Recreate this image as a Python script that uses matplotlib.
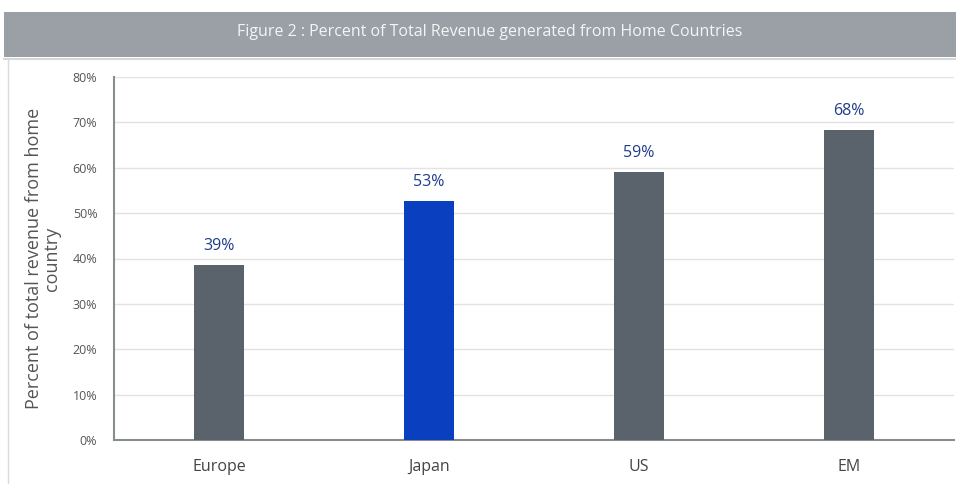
import matplotlib
matplotlib.use("Agg")
import matplotlib.pyplot as plt
from matplotlib.patches import Rectangle
from matplotlib.lines import Line2D
from matplotlib.ticker import FuncFormatter

categories = ["Europe", "Japan", "US", "EM"]
values = [38.6, 52.7, 59.1, 68.4]
labels = ["39%", "53%", "59%", "68%"]
yticks = [0, 10, 20, 30, 40, 50, 60, 70, 80]

plt.rcParams['font.family'] = ['Open Sans', 'DejaVu Sans']

fig = plt.figure(figsize=(9.56, 4.84), dpi=100)
W, H = 956, 484

# header band
fig.patches.append(Rectangle((4 / W, 1 - 57 / H), 1 - 4 / W, 45 / H, transform=fig.transFigure,
                             facecolor="#9aa0a6", edgecolor="none", zorder=0))
fig.lines.append(Line2D([4 / W, 1], [1 - 58.5 / H, 1 - 58.5 / H], transform=fig.transFigure,
                        color="#d5d8db", lw=1.5))
fig.lines.append(Line2D([8 / W, 8 / W], [0, 1 - 58 / H], transform=fig.transFigure,
                        color="#d8dadc", lw=1))
fig.text(490 / W, 1 - 32 / H, "Figure 2 : Percent of Total Revenue generated from Home Countries",
         ha="center", va="center", color="#f4f5f6", fontsize=11.5)

ax = fig.add_axes([114 / W, 1 - 440 / H, 840 / W, 363 / H])
colors = ["#5a636b", "#0a3fbf", "#5a636b", "#5a636b"]
x = range(len(categories))
bars = ax.bar(x, values, width=0.24, color=colors, zorder=3)
for xi, v, lab in zip(x, values, labels):
    ax.text(xi, v + 2.4, lab, ha="center", va="bottom", color="#1f3d8a", fontsize=11.5,
            fontweight="medium")

ax.set_xlim(-0.5, len(categories) - 0.5)
ax.set_ylim(0, 80)
ax.set_yticks(yticks)
ax.yaxis.set_major_formatter(FuncFormatter(lambda v, p: f"{int(v)}%"))
ax.set_xticks(list(x))
ax.set_xticklabels(categories, fontsize=11.5, color="#444444")
ax.tick_params(axis="y", labelsize=9, colors="#555555", length=0, pad=12)
ax.tick_params(axis="x", length=0, pad=14)
ax.grid(axis="y", color="#e3e3e3", lw=1, zorder=0)
for s in ["top", "right"]:
    ax.spines[s].set_visible(False)
for s in ["left", "bottom"]:
    ax.spines[s].set_color("#8a8d90")
    ax.spines[s].set_linewidth(1.5)
ax.set_ylabel("Percent of total revenue from home\ncountry", fontsize=13, color="#555555",
              labelpad=8, linespacing=1.05)

fig.savefig("out.png", dpi=100)
